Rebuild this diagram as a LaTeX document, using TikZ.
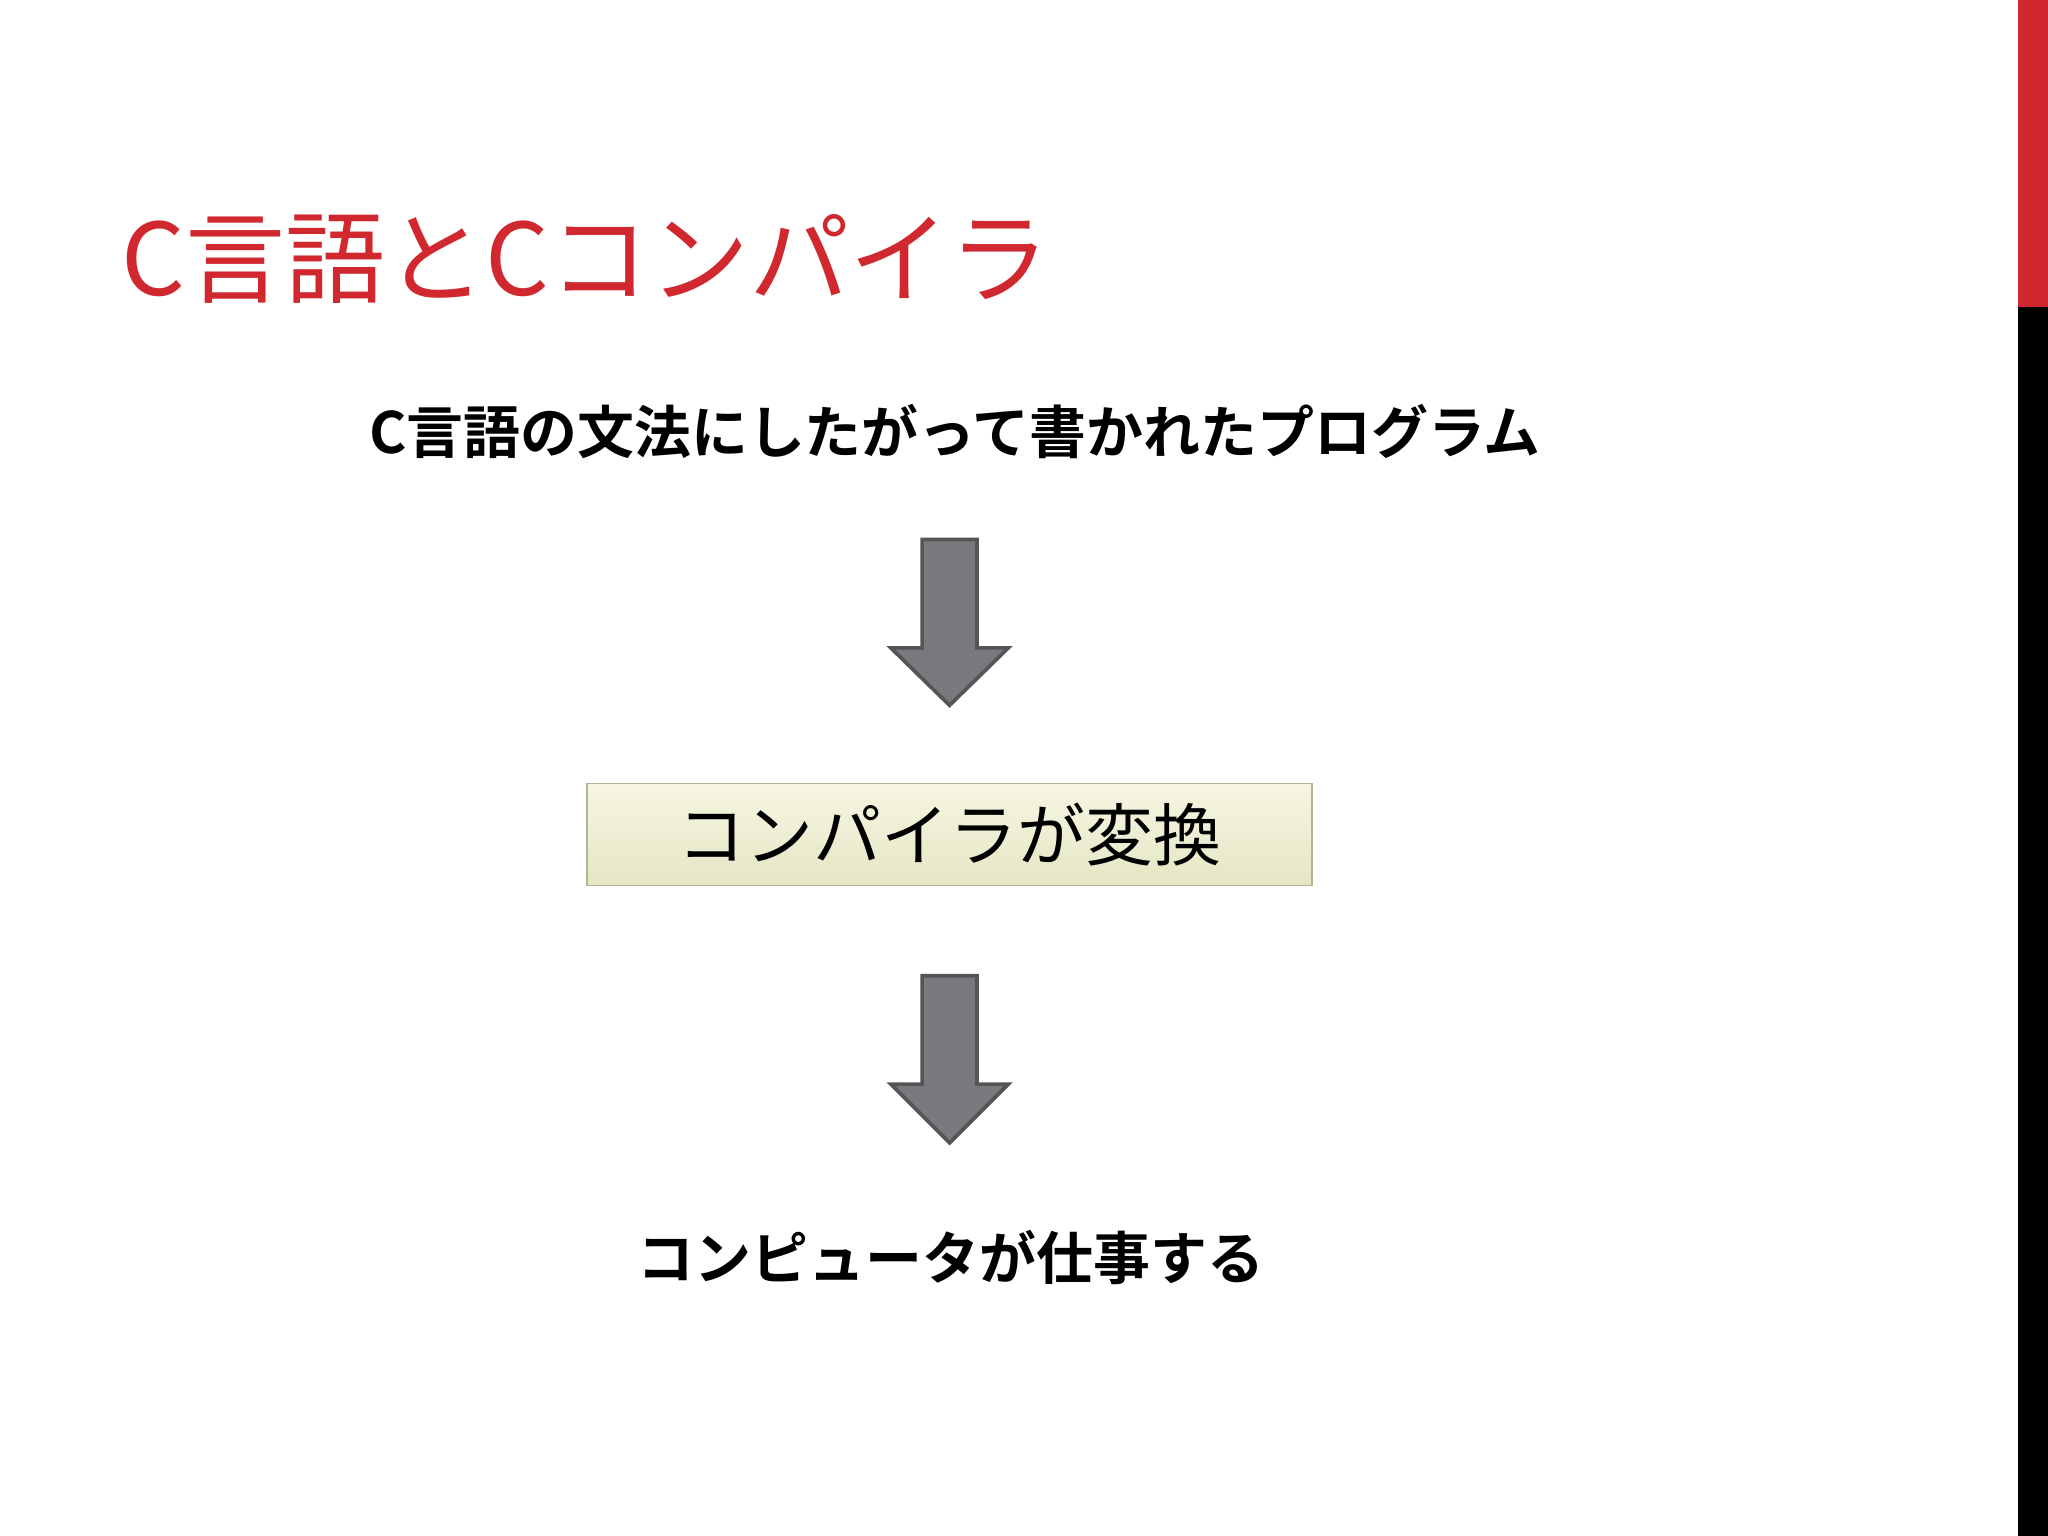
\documentclass[tikz,border=0pt]{standalone}
\usepackage{fontspec}
\newfontfamily\jp{Noto Sans CJK JP}
\newfontfamily\jpb{Noto Sans CJK JP Bold}
\definecolor{titlered}{HTML}{D0282E}
\definecolor{arrowfill}{HTML}{7A787C}
\definecolor{arrowline}{HTML}{555457}
\definecolor{boxtop}{HTML}{F6F6E2}
\definecolor{boxbot}{HTML}{E4E6C4}
\definecolor{boxline}{HTML}{B2B690}
\tikzset{
  bigarrow/.style={fill=arrowfill,draw=arrowline,line width=4pt,line join=miter},
  txt/.style={inner sep=0pt}
}
\begin{document}
\begin{tikzpicture}[x=0.05cm,y=-0.05cm]
\useasboundingbox (0,0) rectangle (1568,1176);
\fill[white] (0,0) rectangle (1568,1176);
\fill[titlered] (1545,0) rectangle (1568,235);
\fill[black] (1545,235) rectangle (1568,1176);
\node[txt,anchor=west,text=titlered,font=\jp\fontsize{109pt}{120pt}\selectfont] (title) at (93,198) {C言語とCコンパイラ};
\node[txt,font=\jpb\fontsize{62pt}{70pt}\selectfont] (src) at (731,330) {C言語の文法にしたがって書かれたプログラム};
\draw[bigarrow] (706,413) -- (748,413) -- (748,496) -- (772,496) -- (727,540) -- (682,496) -- (706,496) -- cycle;
\node[txt,draw=boxline,line width=1.5pt,top color=boxtop,bottom color=boxbot,minimum width=555*0.05cm,minimum height=78*0.05cm,font=\jp\fontsize{74pt}{80pt}\selectfont] (comp) at (727,639) {コンパイラが変換};
\draw[bigarrow] (706,747) -- (748,747) -- (748,830) -- (772,830) -- (727,875) -- (682,830) -- (706,830) -- cycle;
\node[txt,font=\jpb\fontsize{62pt}{70pt}\selectfont] (work) at (728,963) {コンピュータが仕事する};
\end{tikzpicture}
\end{document}
